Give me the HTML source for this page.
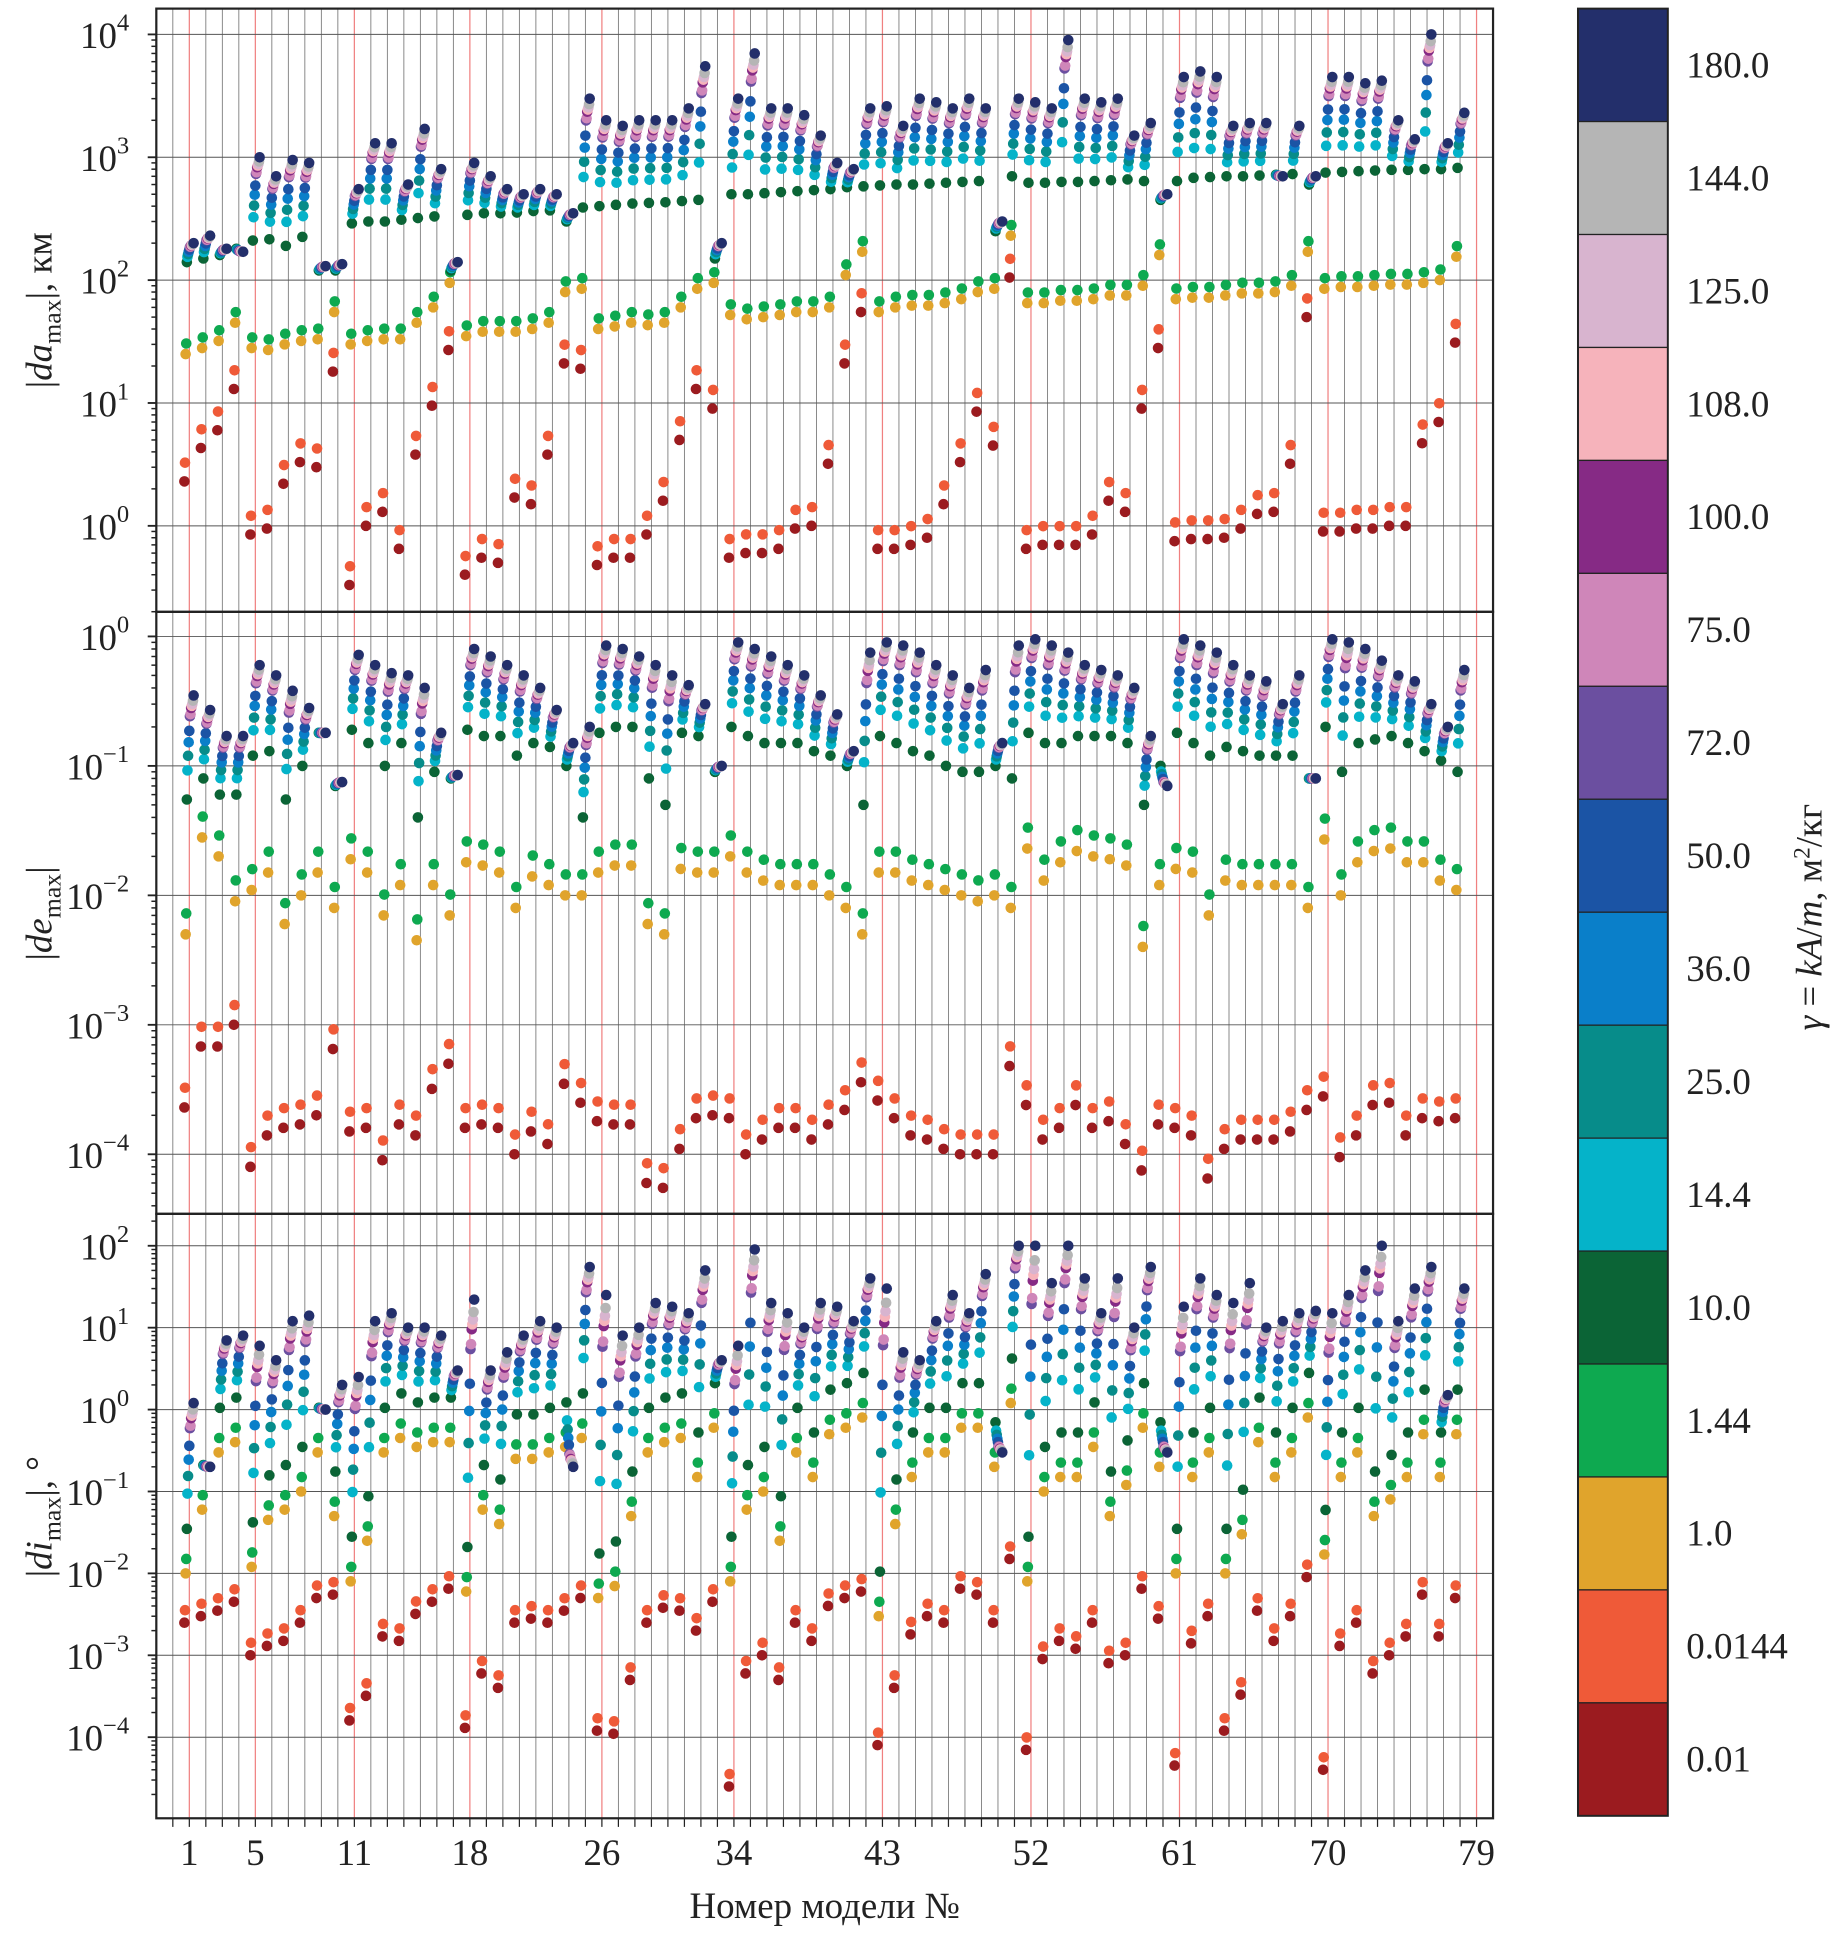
<!DOCTYPE html>
<html><head><meta charset="utf-8"><style>
html,body{margin:0;padding:0;background:#fff}
svg{display:block}
text{font-family:"Liberation Serif",serif;fill:#222}
</style></head><body>
<svg id="chart" width="1834" height="1934" viewBox="0 0 1490 1571" preserveAspectRatio="none" xmlns="http://www.w3.org/2000/svg">
<g id="grid"></g>
<g id="marks"></g>
<g id="axes"></g>
<g id="cbar"></g>
<text x="670" y="1558" font-size="30" text-anchor="middle">Номер модели №</text>
<text transform="translate(42,252) rotate(-90)" font-size="30" text-anchor="middle">|<tspan font-style="italic">da</tspan><tspan font-size="21" dy="7">max</tspan><tspan dy="-7">|, км</tspan></text>
<text transform="translate(42,742) rotate(-90)" font-size="30" text-anchor="middle">|<tspan font-style="italic">de</tspan><tspan font-size="21" dy="7">max</tspan><tspan dy="-7">|</tspan></text>
<text transform="translate(42,1232) rotate(-90)" font-size="30" text-anchor="middle">|<tspan font-style="italic">di</tspan><tspan font-size="21" dy="7">max</tspan><tspan dy="-7">|, °</tspan></text>
<text transform="translate(1480,745) rotate(-90)" font-size="30" text-anchor="middle"><tspan font-style="italic">γ</tspan> = <tspan font-style="italic">kA</tspan>/<tspan font-style="italic">m</tspan>,  м<tspan font-size="19" dy="-10">2</tspan><tspan dy="10">/кг</tspan></text>
</svg>
<script>
const gammas = ["0.01","0.0144","1.0","1.44","10.0","14.4","25.0","36.0","50.0","72.0","75.0","100.0","108.0","125.0","144.0","180.0"];
const gammaColors = ["#9b1b1f","#ef5a38","#e0a42c","#0ea950","#0b6436","#05b3c9","#078c8a","#0a7fc9","#1b54a5","#6b4fa0","#cf86b9","#862a85","#f6b3bb","#d8b4cf","#b5b5b5","#232f6b"];
const redModels = [1,5,11,18,26,34,43,52,61,70,79];
const xTickLabels = ["1","5","11","18","26","34","43","52","61","70","79"];
const hiFrac = [0.28,0.42,0.55,0.66,0.8,0.82,0.88,0.9,0.92,0.95,1.0];
const r0144Ratio = 1.42;
const daR01 = [2.3,4.3,6,13,0.85,0.95,2.2,3.3,3,18,0.33,1.0,1.3,0.65,3.8,9.5,27,0.4,0.55,0.5,1.7,1.5,3.8,21,19,0.48,0.55,0.55,0.85,1.6,5,13,9,0.55,0.6,0.6,0.65,0.95,1.0,3.2,21,55,0.65,0.65,0.7,0.8,1.5,3.3,8.5,4.5,105,0.65,0.7,0.7,0.7,0.85,1.6,1.3,9,28,0.75,0.78,0.78,0.8,0.95,1.25,1.3,3.2,50,0.9,0.9,0.95,0.95,1.0,1.0,4.7,7,31];
const daY10 = [25,28,32,45,28,27,30,32,33,55,30,32,33,33,45,60,95,35,38,38,38,40,45,80,85,40,42,45,43,45,60,85,95,52,48,50,52,55,55,60,110,170,55,60,62,62,65,70,80,85,230,65,65,68,68,70,75,75,90,160,70,72,72,75,78,78,80,90,170,85,88,88,90,92,92,95,100,155];
const daY144Ratio = 1.22;
const daG10 = [140,150,160,180,210,215,190,225,120,120,290,300,300,310,320,330,120,340,350,350,355,365,370,300,390,400,410,420,425,430,440,450,150,500,500,510,520,530,540,550,570,580,590,600,600,610,620,630,640,250,700,620,620,630,630,640,650,660,640,450,640,680,690,700,700,710,720,730,600,750,760,770,780,790,790,800,800,820];
const daH180 = [200,230,180,170,1000,700,950,900,130,135,550,1300,1300,600,1700,800,140,900,700,550,500,550,500,350,3000,2000,1800,2000,2000,2000,2500,5500,200,3000,7000,2500,2500,2200,1500,900,800,2500,2600,1800,3000,2800,2500,3000,2500,300,3000,2800,2500,9000,3000,2800,3000,1500,1900,500,4500,5000,4500,1800,1900,1900,700,1800,700,4500,4500,4000,4200,2000,1400,10000,1300,2300];
const deR01 = [0.00023,0.00068,0.00068,0.001,0.00008,0.00014,0.00016,0.00017,0.0002,0.00065,0.00015,0.00016,0.00009,0.00017,0.00014,0.00032,0.0005,0.00016,0.00017,0.00016,0.0001,0.00015,0.00012,0.00035,0.00025,0.00018,0.00017,0.00017,0.00006,0.000055,0.00011,0.00019,0.0002,0.00019,0.0001,0.00013,0.00016,0.00016,0.00013,0.00017,0.00022,0.00036,0.00026,0.00019,0.00014,0.00013,0.00011,0.0001,0.0001,0.0001,0.00048,0.00024,0.00013,0.00016,0.00024,0.00016,0.00018,0.00012,0.000075,0.00017,0.00016,0.00014,0.000065,0.00011,0.00013,0.00013,0.00013,0.00015,0.00022,0.00028,0.000095,0.00014,0.00024,0.00025,0.00014,0.00019,0.00018,0.00019];
const deY10 = [0.005,0.028,0.02,0.009,0.011,0.015,0.006,0.01,0.015,0.008,0.019,0.015,0.007,0.012,0.0045,0.012,0.007,0.018,0.017,0.015,0.008,0.014,0.012,0.01,0.01,0.015,0.017,0.017,0.006,0.005,0.016,0.015,0.015,0.02,0.015,0.013,0.012,0.012,0.012,0.01,0.008,0.005,0.015,0.015,0.013,0.012,0.011,0.01,0.009,0.01,0.008,0.023,0.013,0.018,0.022,0.02,0.019,0.017,0.004,0.012,0.016,0.015,0.007,0.013,0.012,0.012,0.012,0.012,0.008,0.027,0.01,0.018,0.022,0.023,0.018,0.018,0.013,0.011];
const deY144Ratio = 1.45;
const deG10 = [0.055,0.08,0.06,0.06,0.12,0.13,0.055,0.1,0.18,0.07,0.19,0.15,0.1,0.15,0.04,0.09,0.08,0.19,0.17,0.17,0.12,0.15,0.14,0.1,0.04,0.18,0.2,0.2,0.08,0.05,0.18,0.17,0.09,0.2,0.17,0.15,0.15,0.15,0.13,0.12,0.1,0.05,0.17,0.15,0.13,0.12,0.1,0.09,0.09,0.1,0.08,0.18,0.15,0.15,0.17,0.17,0.17,0.15,0.05,0.1,0.18,0.15,0.12,0.14,0.13,0.12,0.12,0.12,0.08,0.2,0.09,0.15,0.16,0.17,0.15,0.13,0.11,0.09];
const deH180 = [0.35,0.27,0.17,0.17,0.6,0.5,0.38,0.28,0.18,0.075,0.72,0.6,0.52,0.5,0.4,0.18,0.085,0.8,0.7,0.6,0.5,0.4,0.27,0.15,0.2,0.85,0.8,0.7,0.6,0.5,0.42,0.3,0.1,0.9,0.8,0.7,0.6,0.5,0.35,0.25,0.13,0.75,0.9,0.85,0.75,0.6,0.5,0.4,0.55,0.15,0.85,0.95,0.85,0.75,0.6,0.55,0.5,0.4,0.17,0.07,0.95,0.85,0.75,0.6,0.5,0.45,0.3,0.5,0.08,0.95,0.9,0.8,0.65,0.5,0.45,0.3,0.2,0.55];
const diR01 = [0.0025,0.003,0.0035,0.0045,0.001,0.0013,0.0015,0.0025,0.005,0.0055,0.00016,0.00032,0.0017,0.0015,0.0032,0.0045,0.0065,0.00013,0.0006,0.0004,0.0025,0.0028,0.0025,0.0035,0.005,0.00012,0.00011,0.0005,0.0025,0.0038,0.0035,0.002,0.0045,0.000025,0.0006,0.001,0.0005,0.0025,0.0015,0.004,0.005,0.006,0.00008,0.0004,0.0018,0.003,0.0025,0.0065,0.0055,0.0025,0.015,0.00007,0.0009,0.0015,0.0012,0.0025,0.0008,0.001,0.0065,0.0028,0.000045,0.0014,0.003,0.00012,0.00033,0.0035,0.0015,0.003,0.009,0.00004,0.0013,0.0025,0.0006,0.001,0.0017,0.0055,0.0017,0.005];
const diY10 = [0.01,0.06,0.3,0.4,0.012,0.045,0.06,0.1,0.3,0.05,0.008,0.025,0.3,0.45,0.35,0.4,0.4,0.006,0.06,0.04,0.25,0.25,0.3,0.35,0.45,0.005,0.007,0.05,0.3,0.4,0.45,0.15,0.6,0.008,0.06,0.1,0.025,0.3,0.15,0.5,0.6,0.8,0.003,0.04,0.15,0.3,0.3,0.6,0.6,0.2,1.2,0.008,0.1,0.15,0.15,0.35,0.05,0.12,0.6,0.2,0.01,0.15,0.3,0.01,0.03,0.4,0.15,0.3,0.8,0.017,0.15,0.3,0.05,0.08,0.15,0.5,0.15,0.5];
const diY144Ratio = 1.5;
const diG10Ratio = 3.5;
const diH180 = [1.2,0.2,7,8,6,4,12,14,1,2,2.5,12,15,10,10,8,3,22,3,5,8,12,10,0.2,55,25,8,10,20,18,15,50,4,6,90,20,15,10,20,18,12,40,30,5,4,12,25,15,45,0.3,100,100,35,100,40,15,40,10,55,0.3,18,40,25,20,35,10,12,15,16,15,25,50,100,12,30,55,1.5,30];

const NS="http://www.w3.org/2000/svg";
function el(tag,attrs,parent){const e=document.createElementNS(NS,tag);for(const k in attrs)e.setAttribute(k,attrs[k]);parent.appendChild(e);return e;}
const L=127,R=1213;
function xScale(n){return L+(n+1)*(R-L)/81;}
const panels=[
 {top:7,bot:497,lo:-0.7,hi:4.21,ticks:[0,1,2,3,4],r01:daR01,y10:daY10,y144:daY144Ratio,g10:daG10,h180:daH180,name:"da"},
 {top:497,bot:986,lo:-4.46,hi:0.19,ticks:[-4,-3,-2,-1,0],r01:deR01,y10:deY10,y144:deY144Ratio,g10:deG10,h180:deH180,name:"de"},
 {top:986,bot:1477,lo:-4.99,hi:2.39,ticks:[-4,-3,-2,-1,0,1,2],r01:diR01,y10:diY10,y144:diY144Ratio,g10:diY10.map(v=>v*diG10Ratio),h180:diH180,name:"di"}
];
function yScale(p,v){const l=Math.log10(v);return p.bot-(l-p.lo)/(p.hi-p.lo)*(p.bot-p.top);}
const gridG=document.getElementById('grid'),marksG=document.getElementById('marks'),axesG=document.getElementById('axes');
panels.forEach(p=>{
 for(let n=0;n<=79;n++){
  const red=redModels.includes(n);
  const ln=el('line',{x1:xScale(n),x2:xScale(n),y1:p.top,y2:p.bot,stroke:red?"#f08080":"#777","stroke-width":red?1:0.7},gridG);
  
  
 }
 p.ticks.forEach(t=>{
  const y=yScale(p,Math.pow(10,t));
  const gl=el('line',{x1:L,x2:R,y1:y,y2:y,stroke:"#555","stroke-width":0.8},gridG);
  
  
  el('line',{x1:L-7,x2:L,y1:y,y2:y,stroke:"#222","stroke-width":1.5},axesG);
  const tx=el('text',{x:L-22,y:y+11,"font-size":30,"text-anchor":"end"},axesG);
  
  
  tx.textContent="10";
  const sp=el('tspan',{dy:-14,"font-size":20},tx);sp.textContent=String(t).replace('-','−');
 });
 for(let d=Math.floor(p.lo);d<Math.ceil(p.hi);d++){
  for(let m=2;m<=9;m++){const v=m*Math.pow(10,d);const l=Math.log10(v);if(l<p.lo||l>p.hi)continue;
   const y=yScale(p,v);el('line',{x1:L-4,x2:L,y1:y,y2:y,stroke:"#222","stroke-width":1.2},axesG);}
 }
 const fr=el('rect',{x:L,y:p.top,width:R-L,height:p.bot-p.top,fill:"none",stroke:"#222","stroke-width":1.8},axesG);
 
 
 const seriesVals=[];
 seriesVals.push(p.r01);
 seriesVals.push(p.r01.map(v=>v*r0144Ratio));
 seriesVals.push(p.y10);
 seriesVals.push(p.y10.map(v=>v*p.y144));
 seriesVals.push(p.g10);
 hiFrac.forEach(f=>{seriesVals.push(p.g10.map((g,i)=>Math.pow(10,Math.log10(g)+f*(Math.log10(p.h180[i])-Math.log10(g)))));});
 seriesVals.forEach((arr,k)=>{
  arr.forEach((v,i)=>{
   if(v==null)return;
   const c=el('circle',{cx:xScale(i+1)+(k-8)*0.5,cy:yScale(p,v),r:4.3,fill:gammaColors[k]},marksG);
   
   
  });
 });
});
for(let n=0;n<=79;n++){el('line',{x1:xScale(n),x2:xScale(n),y1:1477,y2:1484,stroke:"#222","stroke-width":1},axesG);}
redModels.forEach((n,i)=>{
 const t=el('text',{x:xScale(n),y:1515,"font-size":30,"text-anchor":"middle"},axesG);
 
 
 t.textContent=xTickLabels[i];
});
const cb=document.getElementById('cbar');const cbTop=7,cbBot=1475,bh=(cbBot-cbTop)/16;
for(let k=0;k<16;k++){
 const idx=15-k;
 const r=el('rect',{x:1282,y:cbTop+k*bh,width:73,height:bh,fill:gammaColors[idx],stroke:"#222","stroke-width":1},cb);
 
 
 const t=el('text',{x:1370,y:cbTop+k*bh+bh/2+10,"font-size":30},cb);
 
 
 t.textContent=gammas[idx];
}
el('rect',{x:1282,y:cbTop,width:73,height:cbBot-cbTop,fill:"none",stroke:"#222","stroke-width":1.6},cb);
</script>
</body></html>
